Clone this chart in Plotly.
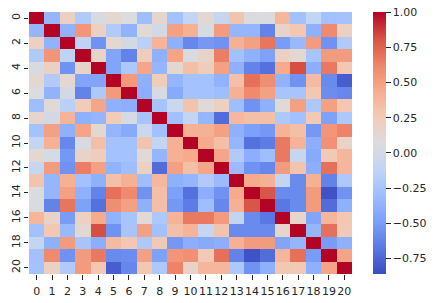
import plotly.graph_objects as go

labels = list(range(21))
row0 = [1, -0.35, 0.2, -0.2, 0.03, 0.13, 0.06, -0.3, 0.15, -0.27, -0.1, 0.12, -0.08, 0.3, 0.05, 0.05, 0.38, -0.28, -0.1, -0.28, -0.27]
row1 = [1, -0.37, 0.55, 0.2, -0.2, -0.37, 0.1, 0.0, 0.5, 0.42, 0.02, 0.52, -0.35, -0.35, -0.62, 0.18, 0.28, -0.38, 0.6, 0.2]
row2 = [1, -0.12, -0.55, 0.13, 0.0, -0.15, 0.4, -0.38, -0.6, -0.52, -0.55, 0.42, 0.5, 0.68, -0.5, -0.33, 0.52, -0.55, -0.2]
row3 = [1, 0.17, -0.45, -0.62, 0.25, -0.38, 0.48, 0.03, 0.17, 0.65, -0.28, -0.38, -0.47, 0.2, 0.12, -0.25, 0.52, 0.52]
row4 = [1, -0.45, -0.22, 0.47, -0.35, 0.12, 0.33, 0.23, 0.5, -0.38, -0.62, -0.7, 0.45, 0.82, -0.4, 0.67, 0.28]
row5 = [1, 0.53, -0.38, 0.25, -0.35, -0.27, -0.27, -0.37, 0.32, 0.7, 0.58, -0.37, -0.55, 0.35, -0.58, -0.78]
row6 = [1, -0.4, 0.02, -0.42, -0.27, -0.27, -0.3, 0.42, 0.6, 0.5, -0.25, -0.25, 0.28, -0.57, -0.6]
row7 = [1, -0.25, -0.05, 0.3, 0.1, 0.2, -0.3, -0.55, -0.38, 0.1, 0.5, -0.22, 0.5, 0.28]
row8 = [1, -0.28, -0.1, -0.35, -0.72, 0.37, 0.33, 0.33, -0.22, -0.28, 0.27, -0.47, -0.22]
row9 = [1, 0.42, 0.42, 0.5, -0.38, -0.48, -0.52, 0.4, 0.33, -0.52, 0.55, 0.63]
row10 = [1, 0.45, 0.33, -0.35, -0.7, -0.65, 0.67, 0.4, -0.4, 0.57, 0.17]
row11 = [1, 0.47, -0.2, -0.4, -0.3, 0.67, -0.08, -0.42, 0.27, 0.38]
row12 = [1, -0.32, -0.55, -0.6, 0.52, 0.3, -0.4, 0.7, 0.38]
row13 = [1, 0.45, 0.42, -0.1, -0.58, 0.42, -0.62, -0.22]
row14 = [1, 0.8, -0.58, -0.58, 0.52, -0.83, -0.55]
row15 = [1, -0.67, -0.58, 0.52, -0.72, -0.38]
row16 = [1, 0.15, -0.45, 0.38, 0.28]
row17 = [1, -0.35, 0.7, 0.27]
row18 = [1, -0.5, -0.38]
row19 = [1, 0.48]
row20 = [1]
upper = [row0, row1, row2, row3, row4, row5, row6, row7, row8, row9, row10,
         row11, row12, row13, row14, row15, row16, row17, row18, row19, row20]

n = len(labels)
z = [[0.0] * n for _ in labels]
for i, row in enumerate(upper):
    for k, v in enumerate(row):
        z[i][i + k] = v
        z[i + k][i] = v

coolwarm = [
    [0.0, "#3b4cc0"], [0.1, "#5977e3"], [0.2, "#7b9ff9"], [0.3, "#9ebeff"],
    [0.4, "#c0d4f5"], [0.5, "#dddcdc"], [0.6, "#f2cbb7"], [0.7, "#f7ac8e"],
    [0.8, "#ee8468"], [0.9, "#d65244"], [1.0, "#b40426"],
]
cb_ticks = [-0.75, -0.5, -0.25, 0, 0.25, 0.5, 0.75, 1]
y_ticks = labels[::2]

font = dict(family="DejaVu Sans", size=11, color="#262626")
W, H = 438, 303
L, R, T, B = 28.7, 352, 12, 274

fig = go.Figure(go.Heatmap(
    z=z, x=labels, y=labels, colorscale=coolwarm, zmin=-0.86, zmax=1.0,
    colorbar=dict(
        thickness=13, thicknessmode="pixels", len=1, lenmode="fraction",
        x=(372.7 - L) / (R - L), xanchor="left", xpad=0, y=0.5, yanchor="middle", ypad=0,
        outlinewidth=0, tickvals=cb_ticks, tickformat=".2f", ticks="outside",
        ticklen=5, tickwidth=0.8, tickcolor="#262626", tickfont=font,
    ),
))
fig.update_layout(
    width=W, height=H,
    margin=dict(l=L, r=W - R, t=T, b=H - B, pad=0, autoexpand=False),
    paper_bgcolor="white", plot_bgcolor="white", font=font,
    xaxis=dict(tickmode="array", tickvals=labels, ticktext=[str(v) for v in labels],
               ticks="outside", ticklen=5, tickwidth=0.8, tickcolor="#262626",
               ticklabelstandoff=2, automargin=False,
               tickangle=0, showgrid=False, zeroline=False, showline=False),
    yaxis=dict(tickmode="array", tickvals=y_ticks, ticktext=[str(v) for v in y_ticks],
               ticks="outside", ticklen=4, tickwidth=0.8, tickcolor="#262626", automargin=False,
               tickangle=-90, autorange="reversed", showgrid=False, zeroline=False, showline=False),
)
fig.write_html("out.html", post_script="document.body.style.margin='0';", config={"displayModeBar": False})
